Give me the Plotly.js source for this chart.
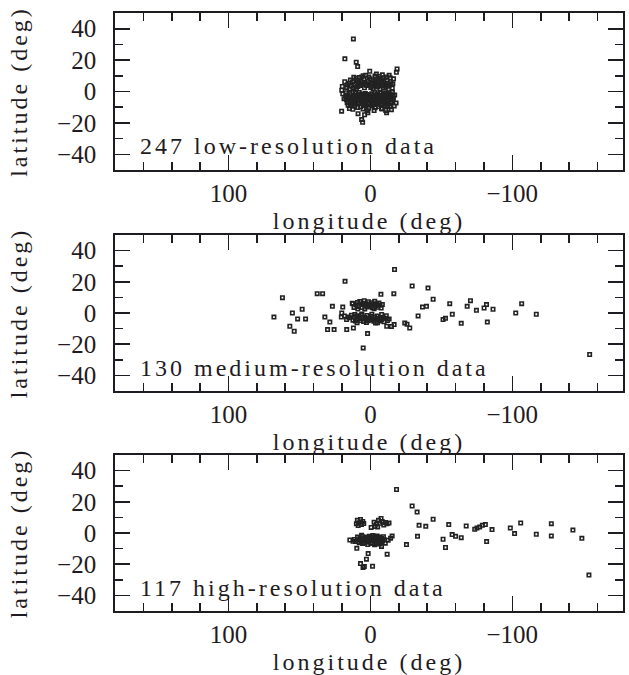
<!DOCTYPE html>
<html>
<head>
<meta charset="utf-8">
<script src="https://cdn.plot.ly/plotly-3.0.1.min.js"></script>
<style>
  html, body { margin: 0; padding: 0; background: #fff; }
  #chart { width: 629px; height: 675px; }
  .xtitle, .x2title, .x3title, .ytitle, .y2title, .y3title, .annotation-text { letter-spacing: 3px; }
</style>
</head>
<body>
<div id="chart"></div>
<script>
// [longitude, latitude] in degrees
const lowRes = [
  [12,33.5],[18,20.8],[10,18.7],[9,15.9],[0.5,12.9],[-18.8,14.4],[-18.3,12.2],[19.8,3.2],[20.2,0.8],[19.5,-1.5],
  [20.3,-12.5],[6.2,-17.9],[5.5,-19.6],[-11.4,-13.5],[-12.3,-9.2],[4.1,-14.8],[1.8,-13.6],[-2.6,-12.1],[-8.1,-11.2],[12.4,-11.3],
  [14.2,-9.1],[15.6,-6.3],[-16.2,-5.1],[-17.1,-2.3],[-15.4,2.1],[-14.1,6.2],[-16.3,8.1],[-13.2,10.3],[-8.4,10.6],[-4.2,11.2],
  [3.3,10.4],[6.1,9.2],[10.2,8.4],[14.1,7.3],[16.2,4.1],[18.1,6.2],[17.4,-3.6],[-18.1,-7.4],[-14.8,-11.6],[8.7,-14.1],
  [15.1,5.2],[13.8,3.4],[12.6,6.1],[11.2,4.5],[10.4,2.8],[9.3,7.2],[8.6,5.4],[7.4,3.9],[6.8,6.8],[5.5,4.6],
  [4.7,7.9],[3.9,5.7],[2.6,3.8],[1.8,6.4],[0.9,4.9],[0.2,8.1],[-0.7,5.6],[-1.4,3.3],[-2.1,6.9],[-2.9,4.4],
  [-3.6,7.6],[-4.3,5.1],[-5.0,2.9],[-5.8,6.3],[-6.5,4.2],[-7.1,8.4],[-7.9,5.7],[-8.6,3.5],[-9.4,6.6],[-10.1,4.8],
  [-10.9,2.7],[-11.6,7.1],[-12.4,5.3],[-13.1,3.6],[-13.9,8.7],[-14.6,4.4],[-11.3,9.2],[-6.2,9.6],[1.1,9.3],[7.8,8.9],
  [12.1,2.2],[9.8,1.9],[4.2,2.4],[-1.9,1.8],[-6.7,1.6],[-9.1,2.1],[-12.8,1.4],[14.6,1.7],[16.8,2.6],[-15.8,4.9],
  [11.7,9.1],[5.1,10.1],[-3.2,9.9],[-9.7,8.8],[8.1,6.3],[3.1,4.1],[-0.3,2.6],[-4.8,3.8],[-8.2,7.4],[-12.1,4.1],
  [17.3,-0.8],[16.1,-2.2],[15.2,-4.1],[14.4,-1.3],[13.6,-3.5],[12.9,-5.8],[12.1,-2.6],[11.4,-4.7],[10.8,-1.1],[10.1,-6.9],
  [9.5,-3.2],[8.9,-5.1],[8.3,-2.1],[7.7,-7.8],[7.1,-4.2],[6.6,-1.6],[6.0,-5.9],[5.4,-3.4],[4.9,-8.6],[4.3,-2.7],
  [3.8,-4.8],[3.2,-6.5],[2.7,-1.9],[2.1,-3.9],[1.6,-5.5],[1.0,-7.2],[0.5,-2.9],[0.0,-4.4],[-0.5,-6.1],[-1.0,-3.1],
  [-1.5,-5.0],[-2.0,-7.6],[-2.5,-2.4],[-3.0,-4.1],[-3.5,-5.8],[-4.0,-3.3],[-4.5,-6.9],[-5.0,-1.7],[-5.5,-4.6],[-6.0,-3.0],
  [-6.5,-5.4],[-7.0,-8.1],[-7.5,-2.2],[-8.0,-4.3],[-8.5,-6.2],[-9.0,-3.6],[-9.5,-1.2],[-10.0,-5.1],[-10.5,-7.4],[-11.0,-2.8],
  [-11.5,-4.5],[-12.0,-0.9],[-12.5,-6.3],[-13.0,-3.2],[-13.5,-5.2],[-14.0,-1.9],[-14.5,-3.8],[-15.0,-6.8],[-15.5,-0.6],[-16.0,-2.9],
  [13.2,-8.3],[11.0,-9.4],[9.1,-10.2],[6.9,-9.7],[5.2,-11.1],[3.0,-9.3],[1.3,-10.6],[-1.2,-9.1],[-3.4,-10.4],[-5.6,-9.6],
  [-7.8,-10.8],[-9.9,-8.9],[-12.2,-8.1],[-13.8,-9.7],[16.4,-7.1],[18.6,-4.6],[-16.8,-9.2],[14.8,-10.9],[-10.8,-12.1],[2.3,-12.2],
  [11.8,-3.1],[9.9,-4.4],[8.0,-3.8],[6.3,-2.9],[4.6,-4.1],[2.9,-3.2],[1.2,-4.8],[-0.4,-3.6],[-2.2,-4.9],[-3.9,-2.6],
  [-5.4,-3.9],[-7.2,-4.7],[-8.8,-2.7],[-10.3,-3.8],[-12.0,-2.3],[10.6,-5.6],[7.4,-5.2],[4.0,-5.9],[0.8,-5.6],[-2.8,-6.2],
  [-6.2,-6.6],[-9.6,-6.0],[12.7,-7.0],[8.7,-7.4],[5.7,-7.6],[1.9,-8.1],[-1.7,-8.4],[-4.9,-8.0],[-8.3,-8.2],[-11.4,-7.7],
  [15.7,-8.8],[13.9,-6.4],[11.5,-8.1],[-14.3,-7.6],[-15.6,-4.3],[16.9,-5.2],[3.6,-1.3],[-0.9,-1.5],[-6.9,-0.9],[-10.7,-1.6],
  [7.9,-0.6],[12.4,-0.4],[-3.2,-0.7],[-13.9,-4.8],[14.0,-4.7],
  [9.2,-2.4],[7.0,-3.1],[5.0,-2.2],[3.4,-5.0],[1.5,-2.3],[-0.1,-5.2],[-1.8,-2.8],[-3.7,-4.5],[-5.2,-5.7],[-6.8,-3.5],
  [-8.4,-5.3],[-9.8,-2.4],[10.3,-3.7],[6.2,-4.6],[2.4,-4.3],[-1.3,-4.1],[-4.4,-2.0],[-7.4,-6.0],[4.4,5.3],[-3.9,6.2],
  [-9.1,3.8],[8.9,3.2]
];

const mediumRes = [
  [68,-2.6],[62,9.8],[55,0],[56.8,-8.5],[53.7,-11.7],[51.3,-3.8],[48.1,2.4],[45.7,-3.8],[37.5,12.4],[33.7,12.4],
  [32.1,-2.6],[28.6,-5.8],[30.2,-10.6],[25.6,-10.6],[26.8,4.3],[17.9,20.3],[20.2,0],[20.5,-2.6],[19.5,3.8],[15.6,-2.6],
  [16.7,-10.6],[12,-9.6],[12.5,6],[5.1,-22.4],[2,-13.2],[-7.4,12],[-17,27.9],[-16.5,12.4],[-11.5,-8.5],[-14.8,-8.6],
  [-16.7,-7.4],[-24.2,-6.4],[-25.8,-7.2],[-27.7,-9.6],[-29.4,17.3],[-40.6,16],[-44.2,8.8],[-36.7,3.8],[-39.5,4.3],[-33.6,-1.9],
  [-55.9,6],[-57.7,-0.8],[-51.2,-4.2],[-52.9,-3.4],[-64,-6.6],[-68.2,4.3],[-70.5,7.9],[-74.7,1.7],[-80.1,3.2],[-81.8,5.4],
  [-86.4,2.4],[-82.4,-5.8],[-102.4,0],[-106.6,6],[-116.9,-0.8],[-154.5,-26.6],
  [10.2,5.1],[9.1,6.8],[8.3,4.2],[7.5,7.4],[6.6,5.6],[5.9,3.5],[5.1,6.2],[4.4,7.9],[3.6,4.7],[2.9,6.0],
  [2.1,3.9],[1.4,7.2],[0.7,5.3],[0.0,4.1],[-0.8,6.6],[-1.5,3.4],[-2.3,5.7],[-3.0,7.5],[-3.8,4.6],[-4.5,5.9],
  [-5.3,3.7],[-6.0,6.4],[-6.8,4.9],[-7.6,3.2],[-8.4,5.5],[11.6,3.6],[12.8,6.3],[8.9,2.6],[-2.6,2.8],[4.0,2.5],
  [14.6,-3.1],[13.4,-1.4],[12.3,-4.6],[11.5,-2.5],[10.6,-5.2],[9.7,-1.8],[8.9,-3.9],[8.1,-2.2],[7.2,-4.8],[6.4,-1.3],
  [5.6,-3.5],[4.8,-5.4],[4.0,-2.7],[3.2,-4.1],[2.4,-1.6],[1.6,-5.0],[0.8,-3.2],[0.0,-4.5],[-0.8,-2.1],[-1.6,-3.8],
  [-2.4,-5.3],[-3.2,-2.6],[-4.0,-4.2],[-4.8,-1.9],[-5.6,-3.6],[-6.4,-5.1],[-7.2,-2.8],[-8.0,-4.4],[-8.8,-3.0],[-9.6,-5.6],
  [-10.4,-3.4],[-11.2,-1.7],[-12.0,-4.8],[-13.2,-3.9],[16.8,-4.2],[18.3,-1.9],[9.4,-6.3],[2.8,-6.1],[-3.6,-6.4],[-7.9,-0.9],
  [6.0,-0.6],[-1.0,-0.8],[11.0,-0.9],[-5.0,-6.2]
];

const highRes = [
  [-18.4,27.9],[-29.4,17.3],[-32.9,13.4],[-34.3,4.9],[-39,4.3],[-33.2,-2.1],[-44.2,8.8],[-25.4,-7.4],[-55.2,5.4],[-51.2,-4],
  [-52.9,-9.3],[-57.6,-1],[-60,-2.1],[-64,-3],[-67.5,4.5],[-73.5,2.4],[-75.1,3.2],[-77,3.8],[-78.9,4.9],[-81,5.4],
  [-85.7,2.2],[-81.9,-5.5],[-98.6,3.2],[-101.6,-0.4],[-105.9,6.4],[-116.9,-0.8],[-127.5,6],[-127.5,-1.9],[-142.7,1.9],[-149,-3.4],
  [-154,-27],[1.6,-13.2],[2.8,-16.8],[7,-19.6],[5.2,-22.1],[4.3,-21.4],[-1.5,-21.3],[-11.8,-13.6],[9.6,-9.8],[14.5,-4.5],
  [12.2,-5.3],[-12.5,-4.6],[-14.2,-3.3],[-15.3,-2],
  [9.2,8.1],[8.1,6.6],[7.0,8.7],[6.3,5.4],[5.4,7.4],[8.6,4.8],[4.7,6.1],[9.9,6.0],
  [-2.6,6.9],[-4.1,5.8],[-5.7,8.1],[-6.8,6.2],[-8.3,7.4],[-9.4,5.2],[-10.6,6.7],[-11.7,5.9],[-13.1,6.4],[-7.5,9.3],[-3.3,4.2],[-5.1,3.9],
  [9.1,-2.6],[8.2,-4.3],[7.4,-3.1],[6.7,-5.6],[5.9,-2.2],[5.2,-4.0],[4.6,-6.3],[4.0,-3.2],[3.4,-5.1],[2.8,-2.5],
  [2.2,-4.4],[1.6,-6.0],[1.0,-3.4],[0.4,-5.2],[-0.2,-2.8],[-0.8,-4.6],[-1.4,-6.4],[-2.0,-3.0],[-2.6,-5.0],[-3.2,-2.3],
  [-3.8,-4.1],[-4.4,-6.1],[-5.0,-3.3],[-5.6,-5.4],[-6.2,-2.6],[-6.8,-4.5],[-7.4,-6.2],[-8.0,-3.6],[-8.6,-5.1],[-9.2,-2.4],
  [0.1,-3.9],[-1.1,-3.6],[-2.3,-4.2],[1.3,-4.8],[2.5,-3.7],[-0.5,-6.8],[3.7,-4.6],[-3.5,-6.9],[5.5,-6.8],[-4.7,-1.9],
  [6.2,-1.5],[-6.4,-7.0],[7.9,-6.2],[-1.7,-1.6],[0.7,-2.1],[-9.8,-4.4],[10.4,-5.4],[-10.5,-6.5],[-2.9,-7.5],[1.9,-7.4],
  [-0.5,3.6],[11.3,-4.1],[-7.8,-8.6]
];

const panelLabels = ["247 low-resolution data", "130 medium-resolution data", "117 high-resolution data"];
const xTitle = "longitude (deg)";
const yTitle = "latitude (deg)";
const lonTicks = [100, 0, -100];
const latTicks = [-40, -20, 0, 20, 40];

const datasets = [lowRes, mediumRes, highRes];
const ink = '#1f1b22';
const serif = 'Liberation Serif';
const tickFont = {family: serif, size: 25, color: ink};
const titleFont = {family: serif, size: 24, color: ink};
const lonRange = [180, -178];
const latRange = [-50, 50];

const traces = datasets.map((d, i) => ({
  type: 'scatter', mode: 'markers',
  x: d.map(p => p[0]), y: d.map(p => p[1]),
  xaxis: i === 0 ? 'x' : 'x' + (i + 1),
  yaxis: i === 0 ? 'y' : 'y' + (i + 1),
  marker: {symbol: 'square-open', size: 3.4, color: '#222', line: {width: 1.6, color: '#222'}},
  showlegend: false, hoverinfo: 'skip'
}));

const H = 675;
const panels = [[13, 170], [235, 391], [455, 611]];
const layout = {
  width: 629, height: 675,
  margin: {l: 115, r: 6, t: 0, b: 0},
  paper_bgcolor: '#fff', plot_bgcolor: '#fff',
  showlegend: false,
  annotations: []
};

const tickStyle = {ticks: 'inside', ticklen: 15, tickwidth: 1.6, tickcolor: ink};
const minorX = {dtick: 20, tick0: 0, ticks: 'inside', ticklen: 8, tickwidth: 1.6, tickcolor: ink, showgrid: false};
const minorY = {dtick: 10, tick0: 0, ticks: 'inside', ticklen: 8, tickwidth: 1.6, tickcolor: ink, showgrid: false};

panels.forEach((p, i) => {
  const sx = i === 0 ? '' : String(i + 1);
  layout['xaxis' + sx] = Object.assign({
    domain: [0, 1], anchor: 'y' + sx, range: lonRange, tickvals: lonTicks,
    minor: minorX,
    showline: true, linewidth: 1.8, linecolor: ink, mirror: 'allticks',
    showgrid: false, zeroline: false, tickfont: tickFont, ticklabelstandoff: 0,
    title: {text: xTitle, font: titleFont, standoff: 6}
  }, tickStyle);
  layout['yaxis' + sx] = Object.assign({
    domain: [(H - p[1]) / H, (H - p[0]) / H], anchor: 'x' + sx, range: latRange, tickvals: latTicks,
    minor: minorY,
    showline: true, linewidth: 1.8, linecolor: ink, mirror: 'allticks',
    showgrid: false, zeroline: false, tickfont: tickFont, ticklabelstandoff: 12,
    title: {text: yTitle, font: titleFont, standoff: 23}
  }, tickStyle);
  layout.annotations.push({
    text: panelLabels[i], showarrow: false,
    xref: 'x' + sx + ' domain', x: 0.045, xanchor: 'left',
    yref: 'y' + sx, y: -35, yanchor: 'middle',
    font: titleFont
  });
});

Plotly.newPlot('chart', traces, layout, {staticPlot: true, displayModeBar: false});
</script>
</body>
</html>
